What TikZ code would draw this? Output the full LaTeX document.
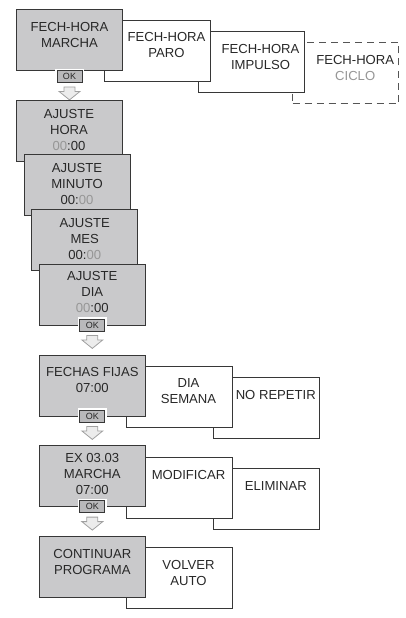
\documentclass[tikz,border=0pt]{standalone}
\usepackage{fontspec}
\setmainfont{Liberation Sans}
\usetikzlibrary{positioning}
\definecolor{screengray}{RGB}{201,201,203}
\definecolor{edgegray}{RGB}{55,55,55}
\definecolor{inkgray}{RGB}{40,40,40}
\definecolor{pale}{RGB}{150,150,150}
\definecolor{arrowfill}{RGB}{236,236,236}
\definecolor{arrowedge}{RGB}{160,160,160}
\tikzset{
  screen/.style={rectangle, draw=edgegray, line width=0.9pt, fill=screengray, minimum width=106pt, minimum height=61pt, inner sep=0pt},
  option/.style={screen, fill=white},
  ghost/.style={option, draw=edgegray!85, dash pattern=on 7pt off 5pt},
  txt/.style={align=center, inner sep=0pt, text=inkgray, font=\fontsize{13.1}{16}\selectfont},
  okbtn/.style={rectangle, draw=edgegray, line width=0.8pt, fill=screengray!92!black, minimum width=25pt, minimum height=12pt, inner sep=0pt, text=inkgray, font=\fontsize{9}{10}\selectfont, preaction={draw=white, line width=4pt}},
  blockarrow/.style={fill=arrowfill, draw=arrowedge, line width=0.8pt, line join=miter}
}
\newcommand{\okdown}[1]{\draw[blockarrow] ([yshift=-4pt]#1.south) -- ++(5.5,0) -- ++(0,-4.5) -- ++(5,0) -- ++(-10.5,-8.5) -- ++(-10.5,8.5) -- ++(5,0) -- ++(0,4.5) -- cycle;}
\begin{document}
\begin{tikzpicture}[x=1pt,y=1pt]
   \useasboundingbox (0,0) rectangle (406,-618);
   \node[ghost] (ciclo) at (345.7,-73) {};
   \node[txt, below=13pt of ciclo.north, xshift=9.5pt] (ciclot) {FECH-HORA\\\textcolor{pale}{CICLO}};
   \node[option] (impulso) at (251,-62) {};
   \node[txt, below=13pt of impulso.north, xshift=9.5pt] (impulsot) {FECH-HORA\\IMPULSO};
   \node[option] (paro) at (157,-50.5) {};
   \node[txt, below=13pt of paro.north, xshift=9.5pt] (parot) {FECH-HORA\\PARO};
   \node[screen] (marcha) at (69.5,-40) {};
   \node[txt, below=13.5pt of marcha.north] (marchat) {FECH-HORA\\MARCHA};
   \node[okbtn] (okmarcha) at (69.5,-76.5) {OK};
   \okdown{okmarcha}

   \node[screen] (hora) at (69,-130.5) {};
   \node[txt, below=9.5pt of hora.north] (horat) {AJUSTE\\HORA\\\textcolor{pale}{00}:00};
   \node[screen] (minuto) at (77,-184.8) {};
   \node[txt, below=9.5pt of minuto.north] (minutot) {AJUSTE\\MINUTO\\00:\textcolor{pale}{00}};
   \node[screen] (mes) at (84.7,-239.5) {};
   \node[txt, below=9.5pt of mes.north] (mest) {AJUSTE\\MES\\00:\textcolor{pale}{00}};
   \node[screen] (dia) at (92.3,-294.8) {};
   \node[txt, below=7.6pt of dia.north] (diat) {AJUSTE\\DIA\\\textcolor{pale}{00}:00};
   \node[okbtn] (okdia) at (92.3,-325) {OK};
   \okdown{okdia}

   \node[option] (repetir) at (266.3,-407.8) {};
   \node[txt, below=13pt of repetir.north, xshift=9.5pt] (repetirt) {NO REPETIR};
   \node[option] (semana) at (179,-396.5) {};
   \node[txt, below=13pt of semana.north, xshift=9.5pt] (semanat) {DIA\\SEMANA};
   \node[screen] (fijas) at (92.3,-385.5) {};
   \node[txt, below=13pt of fijas.north] (fijast) {FECHAS FIJAS\\07:00};
   \node[okbtn] (okfijas) at (92.3,-416) {OK};
   \okdown{okfijas}

   \node[option] (eliminar) at (266.3,-498.8) {};
   \node[txt, below=13pt of eliminar.north, xshift=9.5pt] (eliminart) {ELIMINAR};
   \node[option] (modificar) at (179,-487.8) {};
   \node[txt, below=13pt of modificar.north, xshift=9.5pt] (modificart) {MODIFICAR};
   \node[screen] (ex) at (92.3,-476.2) {};
   \node[txt, below=7.6pt of ex.north] (ext) {EX 03.03\\MARCHA\\07:00};
   \node[okbtn] (okex) at (92.3,-506.7) {OK};
   \okdown{okex}

   \node[option] (volver) at (179,-578.2) {};
   \node[txt, below=13pt of volver.north, xshift=9.5pt] (volvert) {VOLVER\\AUTO};
   \node[screen] (continuar) at (92.3,-567.2) {};
   \node[txt, below=13pt of continuar.north] (continuart) {CONTINUAR\\PROGRAMA};
\end{tikzpicture}
\end{document}
